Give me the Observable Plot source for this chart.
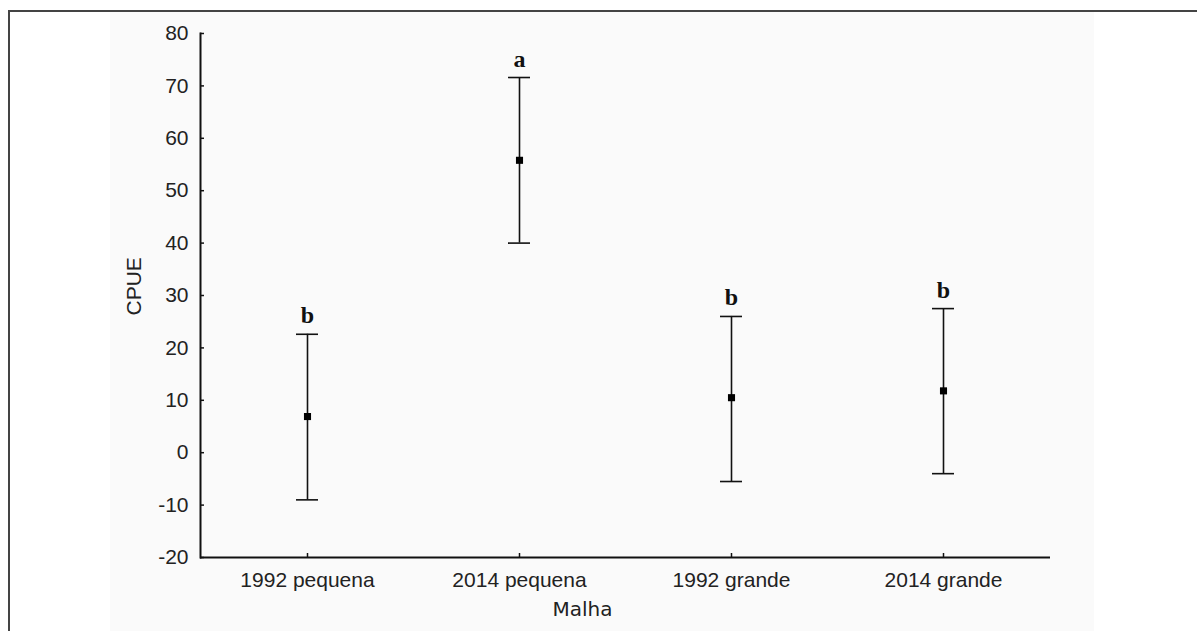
<!DOCTYPE html>
<html><head><meta charset="utf-8">
<script src="https://cdn.jsdelivr.net/npm/d3@7"></script>
<script src="https://cdn.jsdelivr.net/npm/@observablehq/plot@0.6"></script>
<style>
html,body{margin:0;padding:0;background:#fff;width:1197px;height:631px;overflow:hidden;position:relative}
#bg{position:absolute;left:110px;top:12px;width:984px;height:619px;background:#fafafa}
#border{position:absolute;left:8px;top:10px;width:1189px;height:621px;border-top:2px solid #444;border-left:2px solid #444;box-sizing:border-box}
#chart{position:absolute;left:0;top:0}
</style></head><body>
<div id="bg"></div><div id="border"></div><div id="chart"></div>
<script>
const categories = ["1992 pequena", "2014 pequena", "1992 grande", "2014 grande"];
const means = [6.9, 55.8, 10.5, 11.8];
const upper = [22.6, 71.6, 26.0, 27.5];
const lower = [-9.0, 40.0, -5.5, -4.0];
const letters = ["b", "a", "b", "b"];
const yTicks = [-20, -10, 0, 10, 20, 30, 40, 50, 60, 70, 80];

const data = categories.map((c, i) => ({cat: c, mean: means[i], hi: upper[i], lo: lower[i], letter: letters[i]}));

const plot = Plot.plot({
  width: 1197, height: 631,
  marginLeft: 200, marginRight: 147, marginTop: 33, marginBottom: 74,
  style: {background: "transparent", fontFamily: "'Liberation Sans', Arial, sans-serif", fontSize: "21px", color: "#222"},
  x: {type: "band", domain: categories, padding: 0, label: null},
  y: {domain: [-20, 80], label: null},
  marks: [
    Plot.ruleY([-20], {stroke: "#111", strokeWidth: 2}),
    Plot.frame({anchor: "left", stroke: "#111", strokeWidth: 2}),
    Plot.axisY(yTicks, {tickSize: 4, dx: 4, tickFormat: () => "", stroke: "#111", strokeWidth: 1.5, label: null}),
    Plot.axisY(yTicks, {tickSize: 0, tickPadding: 12, tickFormat: d => String(d), fill: "#222", fontSize: 21, label: null}),
    Plot.axisX({tickSize: 4, dy: -4, tickFormat: () => "", stroke: "#111", strokeWidth: 1.5, label: null}),
    Plot.axisX({tickSize: 0, tickPadding: 15, fill: "#222", fontSize: 21, label: null}),
    Plot.ruleX(data, {x: "cat", y1: "lo", y2: "hi", stroke: "#111", strokeWidth: 1.6}),
    Plot.tickY(data, {x: "cat", y: "hi", stroke: "#111", strokeWidth: 1.6, inset: 95}),
    Plot.tickY(data, {x: "cat", y: "lo", stroke: "#111", strokeWidth: 1.6, inset: 95}),
    Plot.dot(data, {x: "cat", y: "mean", symbol: "square", r: 4, fill: "#000"}),
    Plot.text(data, {x: "cat", y: "hi", text: "letter", lineAnchor: "bottom", dy: -11, fontFamily: "'Liberation Serif', 'Times New Roman', serif", fontWeight: "bold", fontSize: 24, fill: "#111"}),
    Plot.text(["CPUE"], {frameAnchor: "left", rotate: -90, dx: -66, dy: 20, fontSize: 21, fill: "#222"}),
    Plot.text(["Malha"], {frameAnchor: "bottom", dx: -43, dy: 58, fontFamily: "'DejaVu Sans', sans-serif", fontSize: 20, fill: "#222"})
  ]
});
document.getElementById("chart").appendChild(plot);
</script>
</body></html>
